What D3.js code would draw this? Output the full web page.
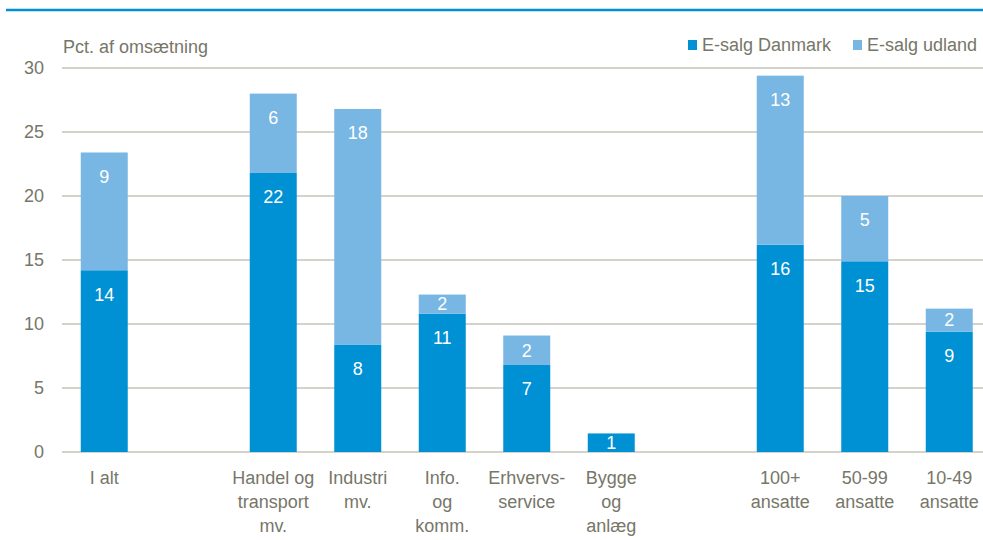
<!DOCTYPE html>
<html lang="da">
<head>
<meta charset="UTF-8">
<title>E-salg</title>
<script src="https://cdn.jsdelivr.net/npm/d3@7"></script>
<style>
  body { margin: 0; background: #fff; }
  text { font-family: "Liberation Sans Narrow", "Arial Narrow", "Liberation Sans", sans-serif; }
</style>
</head>
<body>
<div id="chart"></div>
<script>
// data (blank entries are spacer slots between groups)
const categories = [["I alt"], [], ["Handel og", "transport", "mv."], ["Industri", "mv."], ["Info.", "og", "komm."],
  ["Erhvervs-", "service"], ["Bygge", "og", "anlæg"], [], ["100+", "ansatte"], ["50-99", "ansatte"], ["10-49", "ansatte"]];
const salgDanmark = [14.2, null, 21.8, 8.4, 10.8, 6.8, 1.45, null, 16.2, 14.9, 9.4];
const salgUdland  = [9.2, null, 6.2, 18.4, 1.5, 2.3, 0, null, 13.2, 5.1, 1.8];
const seriesNames = ["E-salg Danmark", "E-salg udland"];
const colors = ["#0091d5", "#78b6e4"];
const yTicks = [0, 5, 10, 15, 20, 25, 30];

const W = 983, H = 540;
const plotLeft = 62, plotRight = 991.5, plotTop = 68, plotBottom = 452;
const textColor = "#767669";

const svg = d3.select("#chart").append("svg")
  .attr("width", W).attr("height", H);

// blue rule at the top
svg.append("line")
  .attr("x1", 6).attr("x2", W).attr("y1", 10).attr("y2", 10)
  .attr("stroke", "#0091d5").attr("stroke-width", 2.5);

const x = d3.scaleBand()
  .domain(d3.range(categories.length))
  .range([plotLeft, plotRight])
  .paddingInner(0.444)
  .paddingOuter(0.222);

const y = d3.scaleLinear().domain([0, 30]).range([plotBottom, plotTop]);

// gridlines
svg.append("g").selectAll("line")
  .data(yTicks)
  .join("line")
  .attr("x1", plotLeft).attr("x2", W)
  .attr("y1", d => y(d)).attr("y2", d => y(d))
  .attr("stroke", "#d3d2cb").attr("stroke-width", 2);

// y tick labels
svg.append("g").selectAll("text")
  .data(yTicks)
  .join("text")
  .attr("x", 44).attr("y", d => y(d))
  .attr("dy", "0.35em")
  .attr("text-anchor", "end")
  .attr("fill", textColor)
  .style("font-size", "18px")
  .text(d => d);

svg.append("text")
  .attr("x", 63).attr("y", 53)
  .attr("fill", textColor)
  .style("font-size", "18px")
  .text("Pct. af omsætning");

// stacked bars
const rows = categories.map((c, i) => ({ i, dk: salgDanmark[i], ud: salgUdland[i] }))
  .filter(d => d.dk !== null);

const segs = [];
rows.forEach(d => {
  segs.push({ i: d.i, y0: 0, y1: d.dk, v: d.dk, s: 0 });
  segs.push({ i: d.i, y0: d.dk, y1: d.dk + d.ud, v: d.ud, s: 1 });
});

const g = svg.append("g");
g.selectAll("rect")
  .data(segs.filter(d => d.v > 0))
  .join("rect")
  .attr("x", d => x(d.i))
  .attr("width", x.bandwidth())
  .attr("y", d => y(d.y1))
  .attr("height", d => y(d.y0) - y(d.y1))
  .attr("fill", d => colors[d.s]);

// value labels
g.selectAll("text")
  .data(segs.filter(d => d.v > 0))
  .join("text")
  .attr("x", d => x(d.i) + x.bandwidth() / 2)
  .attr("y", d => y(d.y1) + Math.min(24, (y(d.y0) - y(d.y1)) / 2))
  .attr("dy", "0.35em")
  .attr("text-anchor", "middle")
  .attr("fill", "#fff")
  .style("font-size", "18px")
  .text(d => Math.round(d.v));

// category labels
svg.append("g").selectAll("text")
  .data(categories.map((c, i) => ({ c, i })).filter(d => d.c.length))
  .join("text")
  .attr("x", d => x(d.i) + x.bandwidth() / 2)
  .attr("y", 484)
  .attr("text-anchor", "middle")
  .attr("fill", textColor)
  .style("font-size", "18px")
  .selectAll("tspan")
  .data(d => d.c)
  .join("tspan")
  .attr("x", function() { return d3.select(this.parentNode).attr("x"); })
  .attr("dy", (d, k) => k === 0 ? 0 : 24)
  .text(d => d);

// legend
const legend = svg.append("g");
const legendX = [688, 853];
seriesNames.forEach((name, k) => {
  legend.append("rect")
    .attr("x", legendX[k]).attr("y", 40)
    .attr("width", 9).attr("height", 10)
    .attr("fill", colors[k]);
  legend.append("text")
    .attr("x", legendX[k] + 14).attr("y", 51)
    .attr("fill", textColor)
    .style("font-size", "18px")
    .text(name);
});
</script>
</body>
</html>
